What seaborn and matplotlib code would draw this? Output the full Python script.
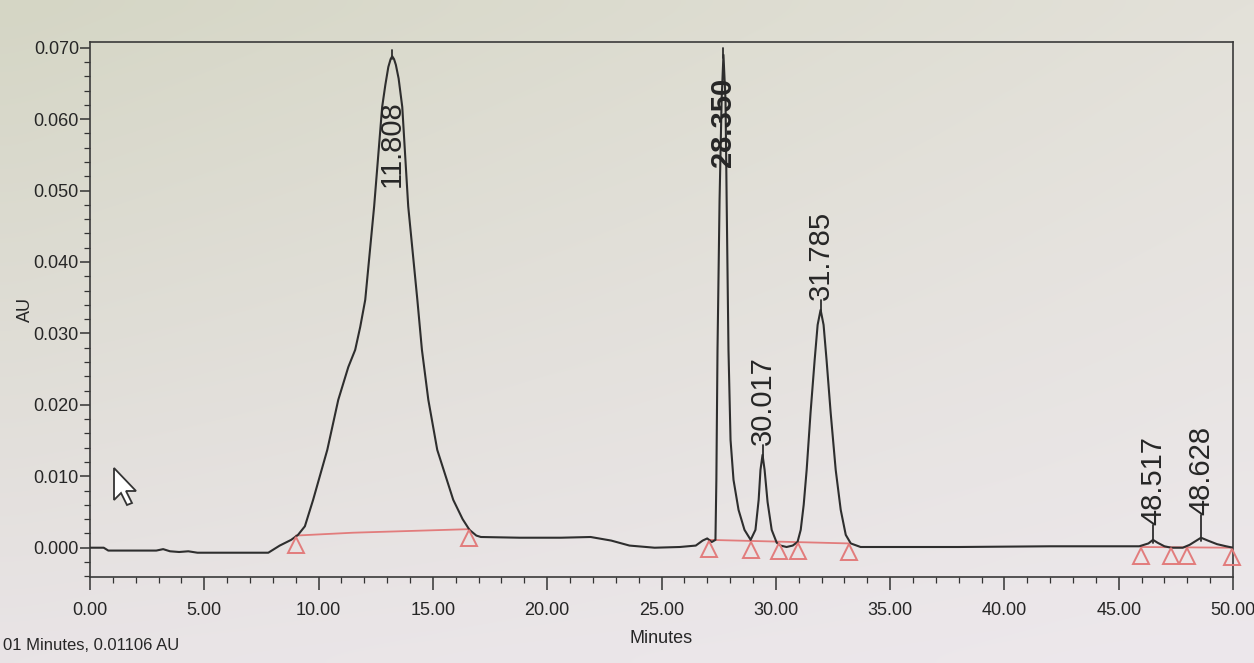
import numpy as np
import pandas as pd
import matplotlib
matplotlib.use("Agg")
import matplotlib.pyplot as plt
import seaborn as sns
from matplotlib.ticker import MultipleLocator, FormatStrFormatter
from matplotlib.transforms import ScaledTranslation
from matplotlib.patches import Polygon

# ---------------- data ----------------
time_min = [
    0.0, 0.6, 0.8, 2.0, 2.9, 3.2, 3.5, 3.9, 4.3, 4.7, 5.5, 6.5, 7.8,
    8.3, 8.8, 9.1, 9.4, 9.76, 10.38, 10.86, 11.30, 11.60, 11.82, 12.04,
    12.43, 12.78, 12.92, 13.05, 13.15, 13.22, 13.30, 13.38, 13.50, 13.66,
    13.92, 14.32, 14.52, 14.80, 15.19, 15.89, 16.3, 16.6, 16.9, 17.1,
    18.8, 20.6, 21.9, 22.8, 23.6, 24.7, 25.8, 26.5, 26.8, 27.0, 27.2,
    27.36, 27.40, 27.45, 27.54, 27.63, 27.71, 27.80, 27.85, 27.93, 28.02,
    28.15, 28.37, 28.63, 28.90,
    29.11, 29.25, 29.33, 29.42, 29.51, 29.64, 29.82, 30.04, 30.21, 30.47,
    30.74, 30.95,
    31.09, 31.22, 31.35, 31.52, 31.70, 31.83, 31.96, 32.09, 32.22, 32.40,
    32.62, 32.84, 33.06, 33.28, 33.71,
    38.0, 42.0, 45.9, 46.3, 46.5, 46.7, 47.0, 47.3, 47.8, 48.1, 48.6,
    48.9, 49.3, 49.7, 50.0,
]
absorbance_au = [
    0.0, 0.0, -0.0004, -0.0004, -0.0004, -0.0002, -0.0005, -0.0006, -0.0005, -0.0007, -0.0007, -0.0007, -0.0007,
    0.0003, 0.0011, 0.0018, 0.0030, 0.0067, 0.0137, 0.0207, 0.0253, 0.0277, 0.0309, 0.0347,
    0.0478, 0.0617, 0.0648, 0.0673, 0.0684, 0.0688, 0.0684, 0.0676, 0.0657, 0.0617,
    0.0478, 0.0347, 0.0277, 0.0207, 0.0137, 0.0067, 0.0040, 0.0025, 0.0017, 0.0015,
    0.0014, 0.0014, 0.0015, 0.0010, 0.0003, 0.0000, 0.0001, 0.0003, 0.0010, 0.0013, 0.0008,
    0.0011, 0.0095, 0.0277, 0.0487, 0.0627, 0.0690, 0.0627, 0.0487, 0.0277, 0.0151,
    0.0095, 0.0053, 0.0025, 0.0011,
    0.0025, 0.0067, 0.0109, 0.0130, 0.0109, 0.0064, 0.0025, 0.0007, 0.0003, 0.0001,
    0.0003, 0.0008,
    0.0025, 0.0060, 0.0109, 0.0189, 0.0263, 0.0312, 0.0333, 0.0312, 0.0263, 0.0189,
    0.0109, 0.0053, 0.0018, 0.0006, 0.0001,
    0.0001, 0.0002, 0.0002, 0.0006, 0.0011, 0.0007, 0.0002, 0.0000, 0.0000, 0.0004, 0.0014,
    0.0010, 0.0005, 0.0002, 0.0000,
]

# integration baselines (red) and peak start/stop markers
baseline1_t = [9.0, 11.5, 16.6]
baseline1_au = [0.0017, 0.0021, 0.0026]
baseline2_t = [27.06, 33.2]
baseline2_au = [0.0011, 0.0006]
baseline3_t = [45.97, 49.96]
baseline3_au = [0.0001, 0.0000]
marker_t = [9.0, 16.6, 27.06, 28.9, 30.12, 30.95, 33.19, 45.97, 47.29, 47.99, 49.96]

# peak annotations
peak_labels = ["11.808", "28.350", "30.017", "31.785", "48.517", "48.628"]
peak_t = [13.22, 27.71, 29.42, 31.96, 46.5, 48.6]
peak_au = [0.0688, 0.0690, 0.0130, 0.0333, 0.0011, 0.0014]

# tick labels
x_ticks = [0, 5, 10, 15, 20, 25, 30, 35, 40, 45, 50]
y_ticks = [0.0, 0.01, 0.02, 0.03, 0.04, 0.05, 0.06, 0.07]

# ---------------- layout ----------------
label_bottom = [0.0505, 0.0533, 0.0144, 0.0347, 0.0032, 0.0046]

sns.set_style("ticks")
plt.rcParams["font.family"] = ["Liberation Sans", "DejaVu Sans"]

W, H = 1254, 663
fig = plt.figure(figsize=(W / 100, H / 100), dpi=100)

# photo-like background gradient
bg = fig.add_axes([0, 0, 1, 1], zorder=-10)
def hex2rgb(h):
    h = h.lstrip("#")
    return np.array([int(h[i:i + 2], 16) / 255 for i in (0, 2, 4)])
tl, tr, bl, br = map(hex2rgb, ["#d5d6c5", "#e3e1d9", "#e9e4e6", "#ede8ec"])
gy, gx = np.mgrid[0:1:40j, 0:1:40j]
grad = ((1 - gy)[..., None] * ((1 - gx)[..., None] * tl + gx[..., None] * tr)
        + gy[..., None] * ((1 - gx)[..., None] * bl + gx[..., None] * br))
bg.imshow(grad, aspect="auto", extent=[0, 1, 0, 1], interpolation="bicubic")
bg.axis("off")

ax = fig.add_axes([90 / W, 1 - 577 / H, (1233 - 90) / W, (577 - 42) / H])
ax.set_facecolor("none")

trace_color = "#2e2e2e"
red = "#e27c7c"

df = pd.DataFrame({"Minutes": time_min, "AU": absorbance_au})
sns.lineplot(data=df, x="Minutes", y="AU", ax=ax, color=trace_color,
             linewidth=1.5, sort=False, estimator=None, zorder=3)

for bt, ba in [(baseline1_t, baseline1_au), (baseline2_t, baseline2_au),
               (baseline3_t, baseline3_au)]:
    sns.lineplot(x=bt, y=ba, ax=ax, color=red, linewidth=1.3,
                 sort=False, estimator=None, zorder=2)

all_bt = baseline1_t + baseline2_t + baseline3_t
all_ba = baseline1_au + baseline2_au + baseline3_au
marker_au = np.interp(marker_t, all_bt, all_ba)
tri_trans = ax.transData + ScaledTranslation(0, -9 / 100, fig.dpi_scale_trans)
ax.plot(marker_t, marker_au, ls="none", marker="^", ms=12, mfc="none",
        mec=red, mew=1.4, transform=tri_trans, zorder=4, clip_on=False)

for lab, t, h, lb in zip(peak_labels, peak_t, peak_au, label_bottom):
    top = max(h + 0.0009, lb)
    ax.plot([t, t], [h - 0.0004, top], color=trace_color, lw=1.3, zorder=3)
    ax.text(t, lb, lab, rotation=90, ha="center", va="bottom", fontsize=21,
            color="#262626", zorder=5,
            fontweight="bold" if lab == "28.350" else "normal")

ax.set_xlim(0, 50)
ax.set_ylim(-0.0041, 0.0708)
ax.set_xticks(x_ticks)
ax.set_yticks(y_ticks)
ax.xaxis.set_major_formatter(FormatStrFormatter("%.2f"))
ax.yaxis.set_major_formatter(FormatStrFormatter("%.3f"))
ax.xaxis.set_minor_locator(MultipleLocator(1))
ax.yaxis.set_minor_locator(MultipleLocator(0.002))
ax.tick_params(which="major", direction="out", length=7, width=1.1,
               colors="#333333", labelsize=13, labelcolor="#262626")
ax.tick_params(which="minor", direction="out", length=4, width=0.9,
               colors="#333333")
ax.tick_params(axis="y", which="major", pad=1)
ax.tick_params(axis="x", which="major", length=9, pad=9)
for s in ax.spines.values():
    s.set_color("#3a3a3a")
    s.set_linewidth(1.2)
    s.set_visible(True)

ax.set_xlabel("Minutes", fontsize=13, color="#262626", labelpad=8)
ax.set_ylabel("AU", fontsize=13, color="#262626", labelpad=0)

fig.text(3 / W, 1 - 645 / H, "01 Minutes, 0.01106 AU", fontsize=12,
         color="#262626", va="center", ha="left")

# mouse cursor
tip_x, tip_y = 114, 468
cursor_px = [(0, 0), (0, 32), (7, 25), (13, 37), (18, 35), (12, 23), (22, 23)]
cursor = Polygon([((tip_x + cx) / W, 1 - (tip_y + cy) / H) for cx, cy in cursor_px],
                 closed=True, transform=fig.transFigure, facecolor="white",
                 edgecolor="#333333", linewidth=1.3, zorder=10)
fig.add_artist(cursor)

fig.savefig("out.png", dpi=100, facecolor=fig.get_facecolor())
